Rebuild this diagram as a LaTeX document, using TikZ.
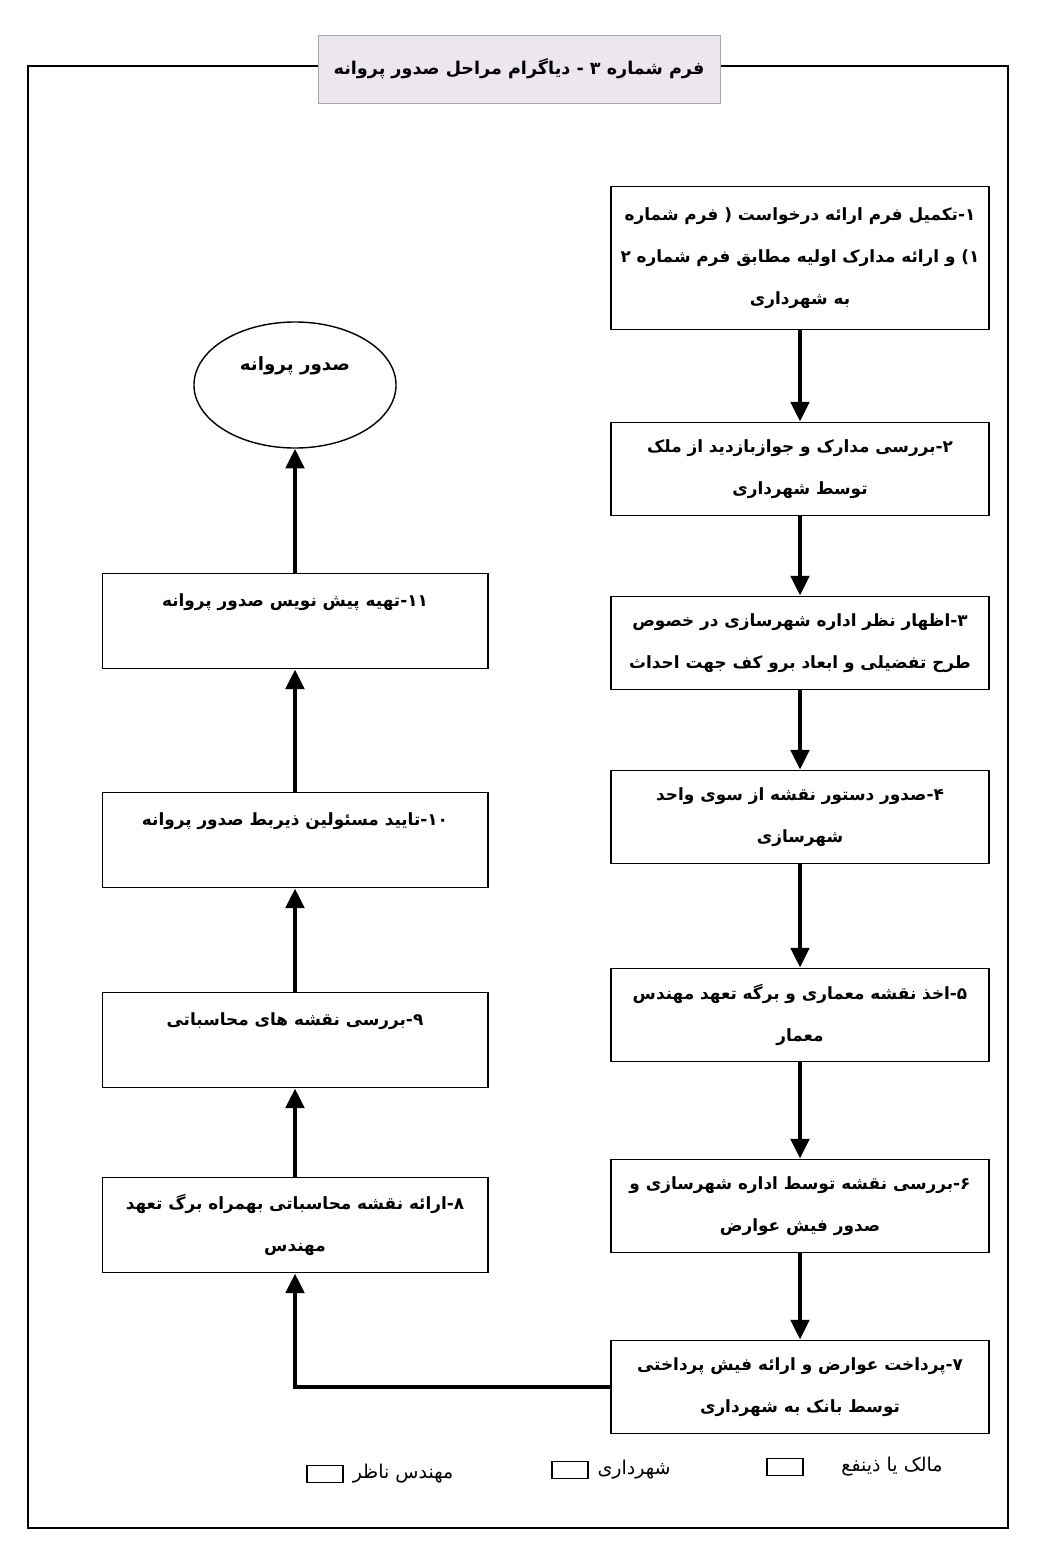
\documentclass[tikz,border=0pt]{standalone}
\usepackage{fontspec}
\usetikzlibrary{shapes.geometric,arrows.meta}
\TeXXeTstate=1
\newfontfamily\persianfont[Script=Arabic]{DejaVu Sans}
\newcommand{\rtlline}[1]{\beginR #1\endR}
\definecolor{titlebg}{RGB}{236,230,238}

\tikzset{
  stepbox/.style={draw, line width=1.2pt, align=center, inner sep=0pt,
    font=\persianfont\bfseries\fontsize{12}{30}\selectfont},
  rightbox/.style={stepbox, minimum width=9.45cm, minimum height=2.33cm},
  leftbox/.style={stepbox, minimum width=9.63cm, minimum height=2.38cm},
  keybox/.style={draw, line width=0.8pt, minimum width=0.9cm, minimum height=0.42cm},
  keytext/.style={font=\persianfont\fontsize{13.5}{16}\selectfont},
  flow/.style={line width=3pt, -{Triangle[width=13pt,length=14pt]}},
}

\begin{document}
\begin{tikzpicture}[x=0.025cm, y=-0.025cm]
    \useasboundingbox (0,0) rectangle (1048,1556);

    % frame and title
    \draw[line width=2pt] (28,66) rectangle (1008,1528);
    \node[draw=gray!70, fill=titlebg, minimum width=10.05cm, minimum height=1.7cm,
        font=\persianfont\bfseries\fontsize{12.5}{16}\selectfont] (title) at (519,69)
        {\rtlline{فرم شماره ۳ - دیاگرام مراحل صدور پروانه}};

    % right column
    \node[rightbox, minimum height=3.575cm] (s1) at (800,258)
        {\rtlline{۱-تکمیل فرم ارائه درخواست ( فرم شماره}\\
         \rtlline{۱) و ارائه مدارک اولیه مطابق فرم شماره ۲}\\
         \rtlline{به شهرداری}};
    \node[rightbox] (s2) at (800,469)
        {\rtlline{۲-بررسی مدارک و جوازبازدید از ملک}\\ \rtlline{توسط شهرداری}};
    \node[rightbox] (s3) at (800,643)
        {\rtlline{۳-اظهار نظر اداره شهرسازی در خصوص}\\ \rtlline{طرح تفضیلی و ابعاد برو کف جهت احداث}};
    \node[rightbox] (s4) at (800,817)
        {\rtlline{۴-صدور دستور نقشه از سوی واحد}\\ \rtlline{شهرسازی}};
    \node[rightbox] (s5) at (800,1015)
        {\rtlline{۵-اخذ نقشه معماری و برگه تعهد مهندس}\\ \rtlline{معمار}};
    \node[rightbox] (s6) at (800,1206)
        {\rtlline{۶-بررسی نقشه توسط اداره شهرسازی و}\\ \rtlline{صدور فیش عوارض}};
    \node[rightbox] (s7) at (800,1387)
        {\rtlline{۷-پرداخت عوارض و ارائه فیش پرداختی}\\ \rtlline{توسط بانک به شهرداری}};

    % left column
    \node[leftbox] (s8) at (295,1225)
        {\rtlline{۸-ارائه نقشه محاسباتی بهمراه برگ تعهد}\\ \rtlline{مهندس}};
    \node[leftbox] (s9) at (295,1040)
        {\rtlline{۹-بررسی نقشه های محاسباتی}\\ \mbox{}};
    \node[leftbox] (s10) at (295,840)
        {\rtlline{۱۰-تایید مسئولین ذیربط صدور پروانه}\\ \mbox{}};
    \node[leftbox] (s11) at (295,621)
        {\rtlline{۱۱-تهیه پیش نویس صدور پروانه}\\ \mbox{}};
    \node[ellipse, draw, line width=1pt, minimum width=5.05cm, minimum height=3.15cm,
        align=center, font=\persianfont\bfseries\fontsize{13}{30}\selectfont] (permit) at (295,385)
        {\rtlline{صدور پروانه}\\ \mbox{}};

    \foreach \a/\b in {s1/s2,s2/s3,s3/s4,s4/s5,s5/s6,s6/s7,s8/s9,s9/s10,s10/s11,s11/permit}
        \draw[flow] (\a) -- (\b);
    \draw[flow] (s7.west) -| (s8.south);

    % key
    \node[keytext] (owner) at (892,1467) {\rtlline{مالک یا ذینفع}};
    \node[keybox] (ownerbox) at (785,1467) {};
    \node[keytext] (city) at (634,1470) {\rtlline{شهرداری}};
    \node[keybox] (citybox) at (570,1470) {};
    \node[keytext] (eng) at (403,1474) {\rtlline{مهندس ناظر}};
    \node[keybox] (engbox) at (325,1474) {};
\end{tikzpicture}
\end{document}
